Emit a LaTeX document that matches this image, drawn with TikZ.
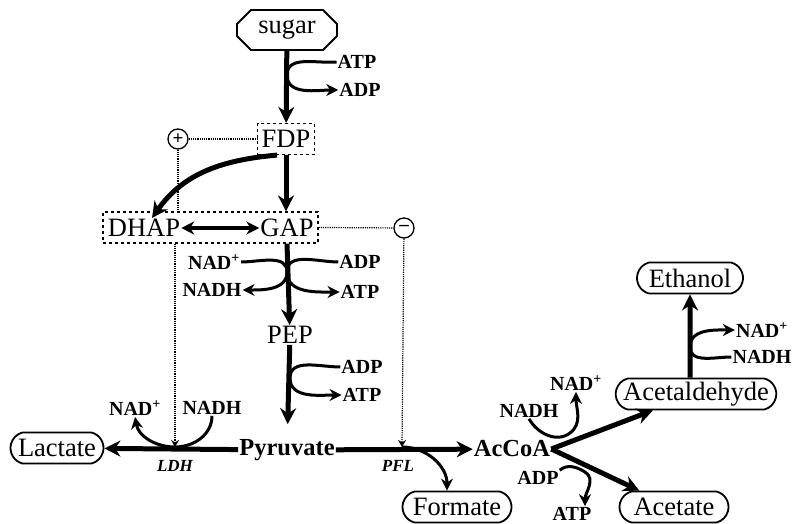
\documentclass[tikz,border=0pt]{standalone}
\usepackage{fontspec}
\setmainfont{Liberation Serif}
\usetikzlibrary{arrows.meta,shapes.misc}

\tikzset{
  met/.style={font=\fontsize{26.5}{28}\selectfont, inner sep=1pt},
  metb/.style={met, font=\bfseries\fontsize{24.5}{26}\selectfont},
  sugarbox/.style={met, draw, line width=1.8pt, chamfered rectangle, chamfered rectangle xsep=7pt, chamfered rectangle ysep=7pt, minimum width=100pt, minimum height=40pt},
  prod/.style={met, draw, line width=1.8pt, rounded rectangle, rounded rectangle arc length=150, inner xsep=2pt, minimum height=31pt},
  pool/.style={met, draw, dashed, line width=1.2pt, inner xsep=4pt, minimum height=31pt},
  cof/.style={font=\bfseries\fontsize{20}{22}\selectfont, inner sep=1pt},
  enz/.style={font=\bfseries\itshape\fontsize{17}{19}\selectfont, inner sep=1pt},
  sign/.style={draw, circle, line width=1.3pt, inner sep=0pt, minimum size=20pt, font=\bfseries\fontsize{19}{19}\selectfont},
  flux/.style={line width=5pt, -{Stealth[length=16pt,width=16pt]}},
  side/.style={line width=3pt, -{Stealth[length=12pt,width=12pt]}},
  ctrl/.style={densely dotted, line width=1.2pt},
  tip/.style={-{Stealth[length=7pt,width=8pt]}}
}

\begin{document}
\begin{tikzpicture}[x=1pt,y=-1pt]
\useasboundingbox (0,0) rectangle (792,524);

\node[sugarbox] (sugar) at (287,30) {sugar};
\node[pool] (fdp) at (286,139) {FDP};
\node[pool, minimum width=215pt] (trio) at (210.5,227.5) {};
\node[met] (dhap) at (144,228) {DHAP};
\node[met] (gap) at (287,228) {GAP};
\node[met] (pep) at (290,335) {PEP};
\node[metb] (pyr) at (287,450) {Pyruvate};
\node[metb] (accoa) at (512,449) {AcCoA};
\node[prod, minimum width=97pt] (lactate) at (57,448) {Lactate};
\node[prod, minimum width=113pt] (formate) at (457,507) {Formate};
\node[prod, minimum width=155pt] (acald) at (696,394) {Acetaldehyde};
\node[prod, minimum width=113pt] (acetate) at (674,507) {Acetate};
\node[prod, minimum width=110pt] (ethanol) at (690,278) {Ethanol};

\node[cof] (atp1) at (357,62) {ATP};
\node[cof] (adp1) at (360,90) {ADP};
\node[cof] (nadp1) at (214,262) {NAD\textsuperscript{+}};
\node[cof] (nadh1) at (212,290) {NADH};
\node[cof] (adp2) at (360,262) {ADP};
\node[cof] (atp2) at (360,292) {ATP};
\node[cof] (adp3) at (362,367) {ADP};
\node[cof] (atp3) at (362,395) {ATP};
\node[cof] (nadp2) at (135,408) {NAD\textsuperscript{+}};
\node[cof] (nadh2) at (212,408) {NADH};
\node[cof] (nadp3) at (576,383) {NAD\textsuperscript{+}};
\node[cof] (nadh3) at (529,411) {NADH};
\node[cof] (adp4) at (538,478) {ADP};
\node[cof] (atp4) at (572,514) {ATP};
\node[cof] (nadp4) at (762,330) {NAD\textsuperscript{+}};
\node[cof] (nadh4) at (762,357) {NADH};
\node[enz] (ldh) at (175,466) {LDH};
\node[enz] (pfl) at (398,466) {PFL};

\node[sign] (plus) at (178,139) {+};
\node[sign] (minus) at (404,228) {--};

\coordinate (j1) at (287,75);
\coordinate (j2) at (287,272);
\coordinate (j3) at (290,378);
\coordinate (ldhj) at (175,447);
\coordinate (pflj) at (402,447);
\coordinate (j4) at (570,433);
\coordinate (j5) at (585,472);
\coordinate (j6) at (690,347);

\path[flux] (sugar) edge (fdp);
\path[flux] (fdp) edge (fdp |- trio.north);
\path[flux] ([xshift=-9pt]fdp.south) edge[out=185,in=55] ([xshift=8pt]dhap.north);
\path[line width=3.5pt, {Stealth[length=13pt,width=13pt]}-{Stealth[length=13pt,width=13pt]}] (dhap) edge (gap);
\path[flux] (trio.south -| gap) edge (pep);
\path[flux] (pep) edge[shorten >=14pt] (pyr);
\path[flux] (pyr) edge (lactate);
\path[flux] (pyr) edge (accoa);
\path[flux] (accoa.east) edge (acald);
\path[flux] (accoa.east) edge (acetate);
\path[flux] (acald.north -| ethanol) edge (ethanol);

\draw[side] (atp1.west) to[out=185,in=90] (j1) to[out=-90,in=180] (adp1.west);
\draw[side] (nadp1.east) to[out=0,in=90] (j2) to[out=-90,in=0] (nadh1.east);
\draw[side] (adp2.west) to[out=180,in=90] (j2) to[out=-90,in=180] (atp2.west);
\draw[side] (adp3.west) to[out=180,in=90] (j3) to[out=-90,in=180] (atp3.west);
\draw[side] (nadh2.south) to[out=-90,in=0] (ldhj) to[out=180,in=-80] (nadp2.south);
\draw[side] (pflj) to[out=0,in=90] ([xshift=-10pt]formate.north);
\draw[side] (nadh3.south) to[out=-60,in=217] (j4) to[out=37,in=-90] (nadp3.south);
\draw[side] (adp4.north east) to[out=40,in=148] (j5) to[out=-32,in=90] (atp4.north -| j5);
\draw[side] (nadh4.west) to[out=180,in=-90] (j6) to[out=90,in=180] (nadp4.west);

\draw[ctrl] (plus) -- (fdp);
\draw[ctrl] (plus) -- (plus |- trio.north);
\draw[ctrl] (trio.east) -- (minus);
\draw[ctrl, tip] (minus) -- (pflj);
\draw[ctrl, tip] (trio.south -| ldhj) -- (ldhj);
\end{tikzpicture}
\end{document}
